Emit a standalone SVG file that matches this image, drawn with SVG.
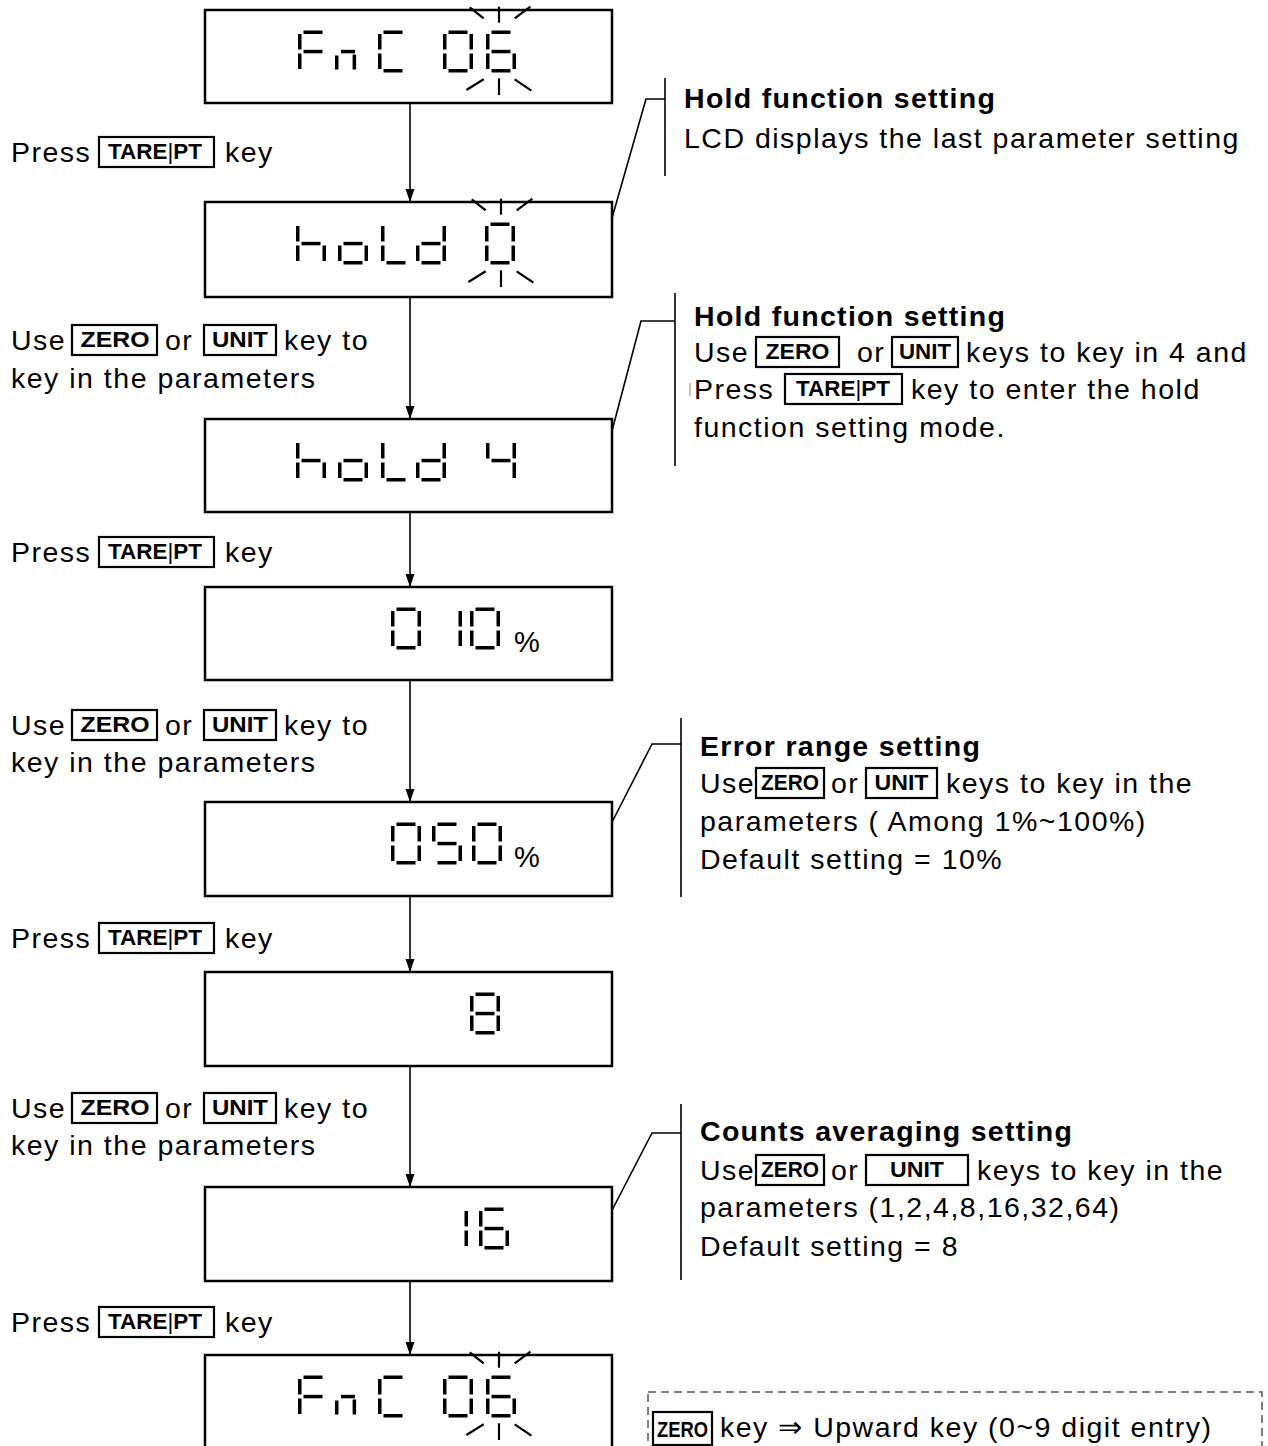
<svg xmlns="http://www.w3.org/2000/svg" width="1268" height="1446" viewBox="0 0 1268 1446">
<style>
.t{font-family:"Liberation Sans",Arial,sans-serif;font-size:28.5px;fill:#000;letter-spacing:1.5px}
.b{font-weight:bold;letter-spacing:1.3px}
.kl{font-family:"Liberation Sans",Arial,sans-serif;font-size:22px;font-weight:bold;text-anchor:middle;fill:#000}
.pipe{font-weight:normal}
.key{fill:none;stroke:#000;stroke-width:2.2}
.lcd{fill:#fff;stroke:#000;stroke-width:2.5}
.pct{font-family:"Liberation Sans",Arial,sans-serif;font-size:29px;fill:#000}
.con{stroke:#000;stroke-width:1.6;fill:none}
.blink{stroke:#000;stroke-width:2.2;fill:none}
.dash{fill:none;stroke:#555;stroke-width:1.5;stroke-dasharray:8 5}
</style>
<defs>
<marker id="ah" markerUnits="userSpaceOnUse" markerWidth="14" markerHeight="10" refX="13" refY="4.5" orient="auto">
<path d="M0,0 L13,4.5 L0,9 z" fill="#000"/>
</marker>
<rect id="sa" x="5.5" y="0" width="19" height="3.5"/>
<rect id="sb" x="26.5" y="3.5" width="3.5" height="15.5"/>
<rect id="sc" x="26.5" y="23" width="3.5" height="15.5"/>
<rect id="sd" x="5.5" y="38.5" width="19" height="3.5"/>
<rect id="se" x="0" y="23" width="3.5" height="15.5"/>
<rect id="sf" x="0" y="3.5" width="3.5" height="15.5"/>
<rect id="sg" x="5.5" y="19.3" width="19" height="3.5"/>
<g id="ch-0"><use href="#sa"/><use href="#sb"/><use href="#sc"/><use href="#sd"/><use href="#se"/><use href="#sf"/></g>
<g id="ch-1"><use href="#sb"/><use href="#sc"/></g>
<g id="ch-4"><use href="#sb"/><use href="#sc"/><use href="#sf"/><use href="#sg"/></g>
<g id="ch-5"><use href="#sa"/><use href="#sc"/><use href="#sd"/><use href="#sf"/><use href="#sg"/></g>
<g id="ch-6"><use href="#sa"/><use href="#sc"/><use href="#sd"/><use href="#se"/><use href="#sf"/><use href="#sg"/></g>
<g id="ch-8"><use href="#sa"/><use href="#sb"/><use href="#sc"/><use href="#sd"/><use href="#se"/><use href="#sf"/><use href="#sg"/></g>
<g id="ch-F"><use href="#sa"/><use href="#se"/><use href="#sf"/><use href="#sg"/></g>
<g id="ch-C"><use href="#sa"/><use href="#sd"/><use href="#se"/><use href="#sf"/></g>
<g id="ch-n"><rect x="0" y="25" width="3.5" height="14"/><rect x="6" y="19.3" width="14" height="3.5"/><rect x="17.6" y="24" width="3.5" height="15"/></g>
<g id="ch-h"><use href="#sc"/><use href="#se"/><use href="#sf"/><use href="#sg"/></g>
<g id="ch-o"><use href="#sc"/><use href="#sd"/><use href="#se"/><use href="#sg"/></g>
<g id="ch-L"><use href="#sd"/><use href="#se"/><use href="#sf"/></g>
<g id="ch-d"><use href="#sb"/><use href="#sc"/><use href="#sd"/><use href="#se"/><use href="#sg"/></g>
<g id="blink">
<line x1="0" y1="-3.3" x2="0" y2="12.7"/><line x1="-29.3" y1="-2.7" x2="-15.3" y2="8.3"/><line x1="31.4" y1="-3.3" x2="15.7" y2="8.3"/>
<line x1="0" y1="68.3" x2="0" y2="85"/><line x1="-32.6" y1="80" x2="-15.3" y2="69.3"/><line x1="15.7" y1="69.3" x2="32.4" y2="80.7"/>
</g>
</defs>
<rect width="1268" height="1446" fill="#fff"/>

<g id="connectors">
<line class="con" x1="410" y1="103" x2="410" y2="202" marker-end="url(#ah)"/>
<line class="con" x1="410" y1="297" x2="410" y2="419" marker-end="url(#ah)"/>
<line class="con" x1="410" y1="512" x2="410" y2="587" marker-end="url(#ah)"/>
<line class="con" x1="410" y1="680" x2="410" y2="802" marker-end="url(#ah)"/>
<line class="con" x1="410" y1="896" x2="410" y2="972" marker-end="url(#ah)"/>
<line class="con" x1="410" y1="1066" x2="410" y2="1187" marker-end="url(#ah)"/>
<line class="con" x1="410" y1="1281" x2="410" y2="1355" marker-end="url(#ah)"/>
<polyline class="con" points="608,232 646,99 665,99"/>
<polyline class="con" points="608,446 641,321 675,321"/>
<polyline class="con" points="608,830 652,744 681,744"/>
<polyline class="con" points="608,1218 652,1133 681,1133"/>
</g>

<g id="lcd1">
<rect class="lcd" x="205" y="10" width="407" height="93"/>
<use href="#ch-F" x="298" y="30.5"/><use href="#ch-n" x="335" y="30.5"/><use href="#ch-C" x="378" y="30.5"/><use href="#ch-0" x="443" y="30.5"/><use href="#ch-6" x="486" y="30.5"/>
<use href="#blink" class="blink" transform="translate(499,10)"/>
</g>
<g id="lcd2">
<rect class="lcd" x="205" y="202" width="407" height="95"/>
<use href="#ch-h" x="296" y="222.5"/><use href="#ch-o" x="338" y="222.5"/><use href="#ch-L" x="381" y="222.5"/><use href="#ch-d" x="416" y="222.5"/><use href="#ch-0" x="485" y="222.5"/>
<use href="#blink" class="blink" transform="translate(501,202)"/>
</g>
<g id="lcd3">
<rect class="lcd" x="205" y="419" width="407" height="93"/>
<use href="#ch-h" x="296" y="439.5"/><use href="#ch-o" x="338" y="439.5"/><use href="#ch-L" x="381" y="439.5"/><use href="#ch-d" x="416" y="439.5"/><use href="#ch-4" x="486" y="439.5"/>
</g>
<g id="lcd4">
<rect class="lcd" x="205" y="587" width="407" height="93"/>
<use href="#ch-0" x="391" y="607.5"/><use href="#ch-1" x="432" y="607.5"/><use href="#ch-0" x="470" y="607.5"/>
<text class="pct" x="514" y="652">%</text>
</g>
<g id="lcd5">
<rect class="lcd" x="205" y="802" width="407" height="94"/>
<use href="#ch-0" x="391" y="822.5"/><use href="#ch-5" x="432" y="822.5"/><use href="#ch-0" x="472" y="822.5"/>
<text class="pct" x="514" y="867">%</text>
</g>
<g id="lcd6">
<rect class="lcd" x="205" y="972" width="407" height="94"/>
<use href="#ch-8" x="470" y="992.5"/>
</g>
<g id="lcd7">
<rect class="lcd" x="205" y="1187" width="407" height="94"/>
<use href="#ch-1" x="438" y="1207.5"/><use href="#ch-6" x="479" y="1207.5"/>
</g>
<g id="lcd8">
<rect class="lcd" x="205" y="1355" width="407" height="100"/>
<use href="#ch-F" x="298" y="1375.5"/><use href="#ch-n" x="335" y="1375.5"/><use href="#ch-C" x="378" y="1375.5"/><use href="#ch-0" x="443" y="1375.5"/><use href="#ch-6" x="486" y="1375.5"/>
<use href="#blink" class="blink" transform="translate(499,1355)"/>
</g>

<g id="step1">
<text class="t" x="11" y="162">Press</text><rect class="key" x="99" y="137" width="115" height="30"/><text class="kl" x="155" y="159" textLength="94" lengthAdjust="spacingAndGlyphs">TARE<tspan class="pipe">|</tspan>PT</text><text class="t" x="225" y="162">key</text>
</g>
<g id="step2">
<text class="t" x="11" y="350">Use</text><rect class="key" x="72" y="325" width="85" height="30"/><text class="kl" x="115" y="347" textLength="69" lengthAdjust="spacingAndGlyphs">ZERO</text><text class="t" x="165" y="350">or</text><rect class="key" x="204" y="325" width="72" height="30"/><text class="kl" x="240" y="347" textLength="56" lengthAdjust="spacingAndGlyphs">UNIT</text><text class="t" x="284" y="350">key to</text>
<text class="t" x="11" y="388">key in the parameters</text>
</g>
<g id="step3">
<text class="t" x="11" y="562">Press</text><rect class="key" x="99" y="537" width="115" height="30"/><text class="kl" x="155" y="559" textLength="94" lengthAdjust="spacingAndGlyphs">TARE<tspan class="pipe">|</tspan>PT</text><text class="t" x="225" y="562">key</text>
</g>
<g id="step4">
<text class="t" x="11" y="735">Use</text><rect class="key" x="72" y="710" width="85" height="30"/><text class="kl" x="115" y="732" textLength="69" lengthAdjust="spacingAndGlyphs">ZERO</text><text class="t" x="165" y="735">or</text><rect class="key" x="204" y="710" width="72" height="30"/><text class="kl" x="240" y="732" textLength="56" lengthAdjust="spacingAndGlyphs">UNIT</text><text class="t" x="284" y="735">key to</text>
<text class="t" x="11" y="772">key in the parameters</text>
</g>
<g id="step5">
<text class="t" x="11" y="948">Press</text><rect class="key" x="99" y="923" width="115" height="30"/><text class="kl" x="155" y="945" textLength="94" lengthAdjust="spacingAndGlyphs">TARE<tspan class="pipe">|</tspan>PT</text><text class="t" x="225" y="948">key</text>
</g>
<g id="step6">
<text class="t" x="11" y="1118">Use</text><rect class="key" x="72" y="1093" width="85" height="30"/><text class="kl" x="115" y="1115" textLength="69" lengthAdjust="spacingAndGlyphs">ZERO</text><text class="t" x="165" y="1118">or</text><rect class="key" x="204" y="1093" width="72" height="30"/><text class="kl" x="240" y="1115" textLength="56" lengthAdjust="spacingAndGlyphs">UNIT</text><text class="t" x="284" y="1118">key to</text>
<text class="t" x="11" y="1155">key in the parameters</text>
</g>
<g id="step7">
<text class="t" x="11" y="1332">Press</text><rect class="key" x="99" y="1307" width="115" height="30"/><text class="kl" x="155" y="1329" textLength="94" lengthAdjust="spacingAndGlyphs">TARE<tspan class="pipe">|</tspan>PT</text><text class="t" x="225" y="1332">key</text>
</g>

<g id="note1">
<line class="con" x1="665" y1="78" x2="665" y2="176"/>
<text class="t b" x="684" y="108">Hold function setting</text>
<text class="t" x="684" y="148">LCD displays the last parameter setting</text>
</g>
<g id="note2">
<line class="con" x1="675" y1="293" x2="675" y2="466"/>
<text class="t b" x="694" y="326">Hold function setting</text>
<text class="t" x="694" y="362">Use</text><rect class="key" x="756" y="337" width="83" height="30"/><text class="kl" x="797.5" y="359" textLength="64" lengthAdjust="spacingAndGlyphs">ZERO</text><text class="t" x="857" y="362">or</text><rect class="key" x="892" y="337" width="66" height="30"/><text class="kl" x="925" y="359" textLength="52" lengthAdjust="spacingAndGlyphs">UNIT</text><text class="t" x="966" y="362">keys to key in 4 and</text>
<line x1="690" y1="383" x2="690" y2="396" stroke="#888" stroke-width="1"/>
<text class="t" x="694" y="399">Press</text><rect class="key" x="785" y="374" width="117" height="30"/><text class="kl" x="843" y="396" textLength="94" lengthAdjust="spacingAndGlyphs">TARE<tspan class="pipe">|</tspan>PT</text><text class="t" x="911" y="399">key to enter the hold</text>
<text class="t" x="694" y="437">function setting mode.</text>
</g>
<g id="note3">
<line class="con" x1="681" y1="718" x2="681" y2="897"/>
<text class="t b" x="700" y="756">Error range setting</text>
<text class="t" x="700" y="793">Use</text><rect class="key" x="756" y="768" width="68" height="30"/><text class="kl" x="790" y="790" textLength="58" lengthAdjust="spacingAndGlyphs">ZERO</text><text class="t" x="831" y="793">or</text><rect class="key" x="866" y="768" width="71" height="30"/><text class="kl" x="901.5" y="790" textLength="54" lengthAdjust="spacingAndGlyphs">UNIT</text><text class="t" x="946" y="793">keys to key in the</text>
<text class="t" x="700" y="831">parameters ( Among 1%~100%)</text>
<text class="t" x="700" y="869">Default setting = 10%</text>
</g>
<g id="note4">
<line class="con" x1="681" y1="1104" x2="681" y2="1280"/>
<text class="t b" x="700" y="1141">Counts averaging setting</text>
<text class="t" x="700" y="1180">Use</text><rect class="key" x="756" y="1155" width="68" height="30"/><text class="kl" x="790" y="1177" textLength="58" lengthAdjust="spacingAndGlyphs">ZERO</text><text class="t" x="831" y="1180">or</text><rect class="key" x="866" y="1155" width="102" height="30"/><text class="kl" x="917" y="1177" textLength="54" lengthAdjust="spacingAndGlyphs">UNIT</text><text class="t" x="977" y="1180">keys to key in the</text>
<text class="t" x="700" y="1217">parameters (1,2,4,8,16,32,64)</text>
<text class="t" x="700" y="1256">Default setting = 8</text>
</g>
<g id="legend">
<rect class="dash" x="648" y="1392" width="614" height="80"/>
<rect class="key" x="653" y="1412" width="59" height="33"/><text class="kl" x="682.5" y="1437" textLength="51" lengthAdjust="spacingAndGlyphs">ZERO</text>
<text class="t" x="720" y="1437">key ⇒ Upward key (0~9 digit entry)</text>
</g>
</svg>
